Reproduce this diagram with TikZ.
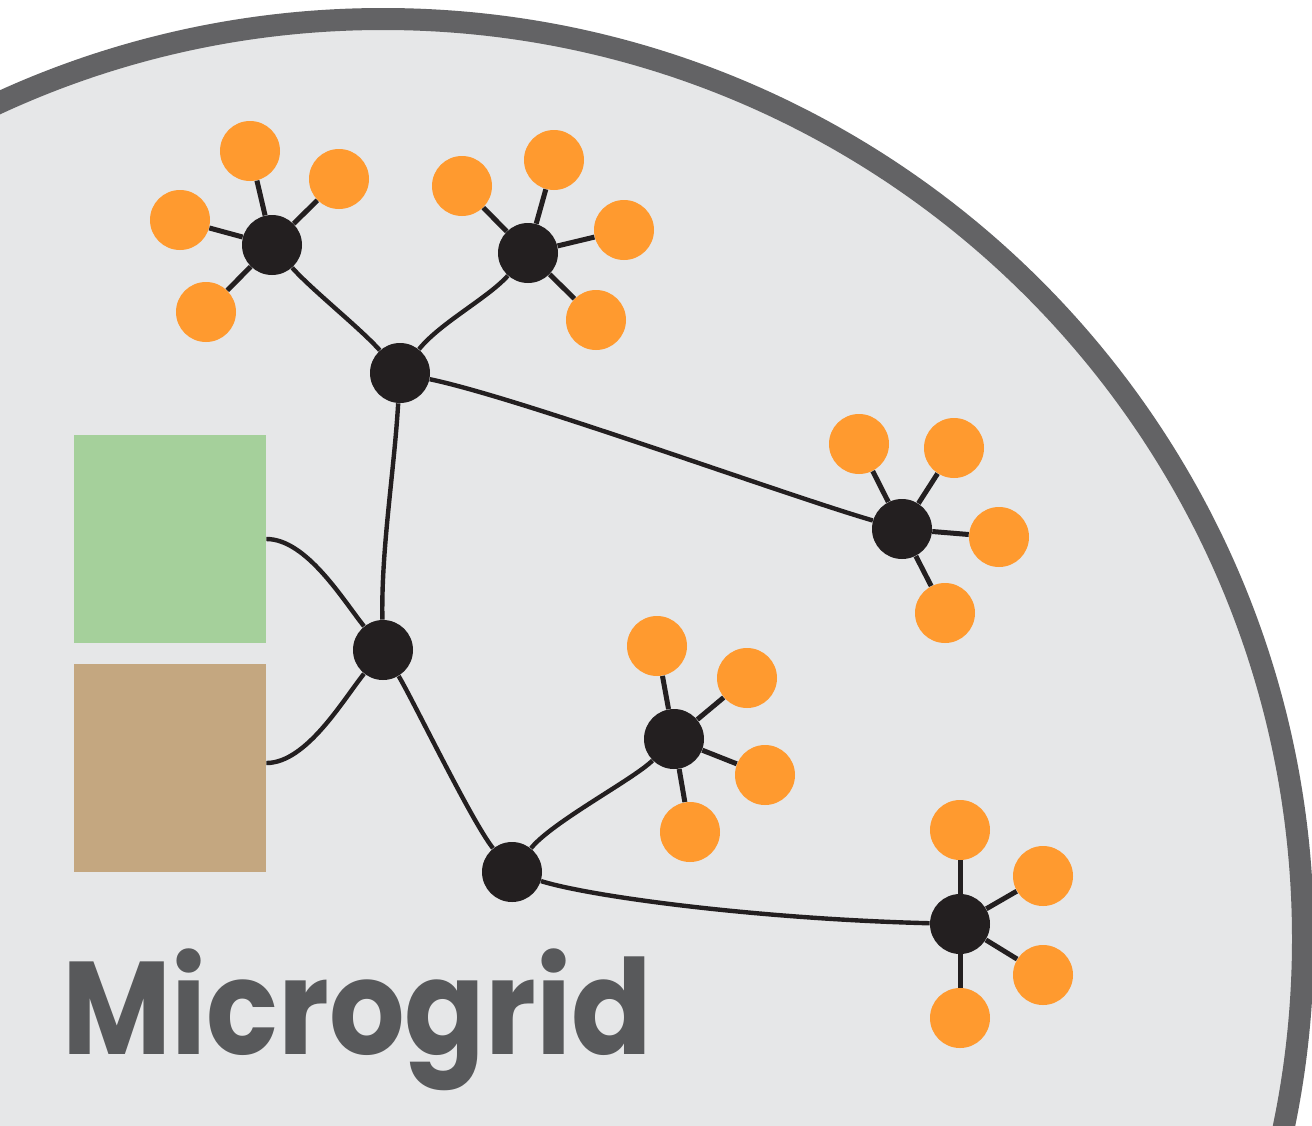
\documentclass[tikz,border=0pt]{standalone}
\usepackage{fontspec}
\newfontfamily\labelfont{Poppins}
\definecolor{bgfill}{HTML}{E6E7E8}
\definecolor{rimgray}{HTML}{636365}
\definecolor{leaforange}{HTML}{FF9A2F}
\definecolor{hubblack}{HTML}{231F20}
\definecolor{pvgreen}{HTML}{A5D09B}
\definecolor{storebrown}{HTML}{C4A780}
\definecolor{textgray}{HTML}{58595B}
\begin{document}
\begin{tikzpicture}[x=0.5pt,y=-0.5pt,
  hub/.style={circle,fill=hubblack,minimum size=30pt,inner sep=0pt},
  leaf/.style={circle,fill=leaforange,minimum size=30pt,inner sep=0pt},
  spoke/.style={draw=hubblack,line width=2.5pt},
  link/.style={draw=hubblack,line width=2.2pt},
  block/.style={minimum width=96pt,minimum height=104pt,inner sep=0pt}]
\useasboundingbox (0,0) rectangle (1312,1125);
\clip (0,0) rectangle (1312,1125);
\fill[white] (0,0) rectangle (1312,1125);
\draw[fill=bgfill,draw=rimgray,line width=11pt] (383,939) circle[radius=460pt];

% storage blocks
\node[block,fill=pvgreen] (pv) at (170,539) {};
\node[block,fill=storebrown] (bat) at (170,768) {};

% hubs
\node[hub] (h1) at (272,245) {};
\node[hub] (h2) at (528,253) {};
\node[hub] (h3) at (400,373) {};
\node[hub] (h4) at (902,529) {};
\node[hub] (h5) at (383,650) {};
\node[hub] (h6) at (674,739) {};
\node[hub] (h7) at (512,872) {};
\node[hub] (h8) at (960,924) {};

% leaves
\node[leaf] (a1) at (250,151) {};
\node[leaf] (a2) at (339,179) {};
\node[leaf] (a3) at (180,220) {};
\node[leaf] (a4) at (206,312) {};
\node[leaf] (b1) at (462,186) {};
\node[leaf] (b2) at (554,160) {};
\node[leaf] (b3) at (624,230) {};
\node[leaf] (b4) at (596,320) {};
\node[leaf] (c1) at (859,444) {};
\node[leaf] (c2) at (954,448) {};
\node[leaf] (c3) at (999,537) {};
\node[leaf] (c4) at (945,613) {};
\node[leaf] (d1) at (657,646) {};
\node[leaf] (d2) at (747,678) {};
\node[leaf] (d3) at (765,775) {};
\node[leaf] (d4) at (690,832) {};
\node[leaf] (e1) at (960,830) {};
\node[leaf] (e2) at (1043,876) {};
\node[leaf] (e3) at (1043,975) {};
\node[leaf] (e4) at (960,1018) {};

% spokes
\foreach \h/\l in {h1/a1,h1/a2,h1/a3,h1/a4,h2/b1,h2/b2,h2/b3,h2/b4,
                   h4/c1,h4/c2,h4/c3,h4/c4,h6/d1,h6/d2,h6/d3,h6/d4,
                   h8/e1,h8/e2,h8/e3,h8/e4}
  \draw[spoke] (\h) -- (\l);

% links
\draw[link] (h1) .. controls +(40,45) and +(-40,-45) .. (h3);
\draw[link] (h3) .. controls +(40,-50) and +(-40,45) .. (h2);
\draw[link] (h3) .. controls +(120,25) and +(-120,-35) .. (h4);
\draw[link] (h3) .. controls +(-6,100) and +(-2,-100) .. (h5);
\draw[link] (pv.east) .. controls +(40,0) and +(-40,-50) .. (h5);
\draw[link] ([yshift=2.5pt]bat.east) .. controls +(40,0) and +(-40,50) .. (h5);
\draw[link] (h5) .. controls +(30,50) and +(-40,-50) .. (h7);
\draw[link] (h7) .. controls +(40,-50) and +(-40,40) .. (h6);
\draw[link] (h7) .. controls +(80,25) and +(-200,-5) .. (h8);

% label
\node[anchor=base west,inner sep=0pt,xscale=0.9,text=textgray,font=\labelfont\bfseries\fontsize{66pt}{66pt}\selectfont] (title) at (62,1054) {Microgrid};
\end{tikzpicture}
\end{document}
